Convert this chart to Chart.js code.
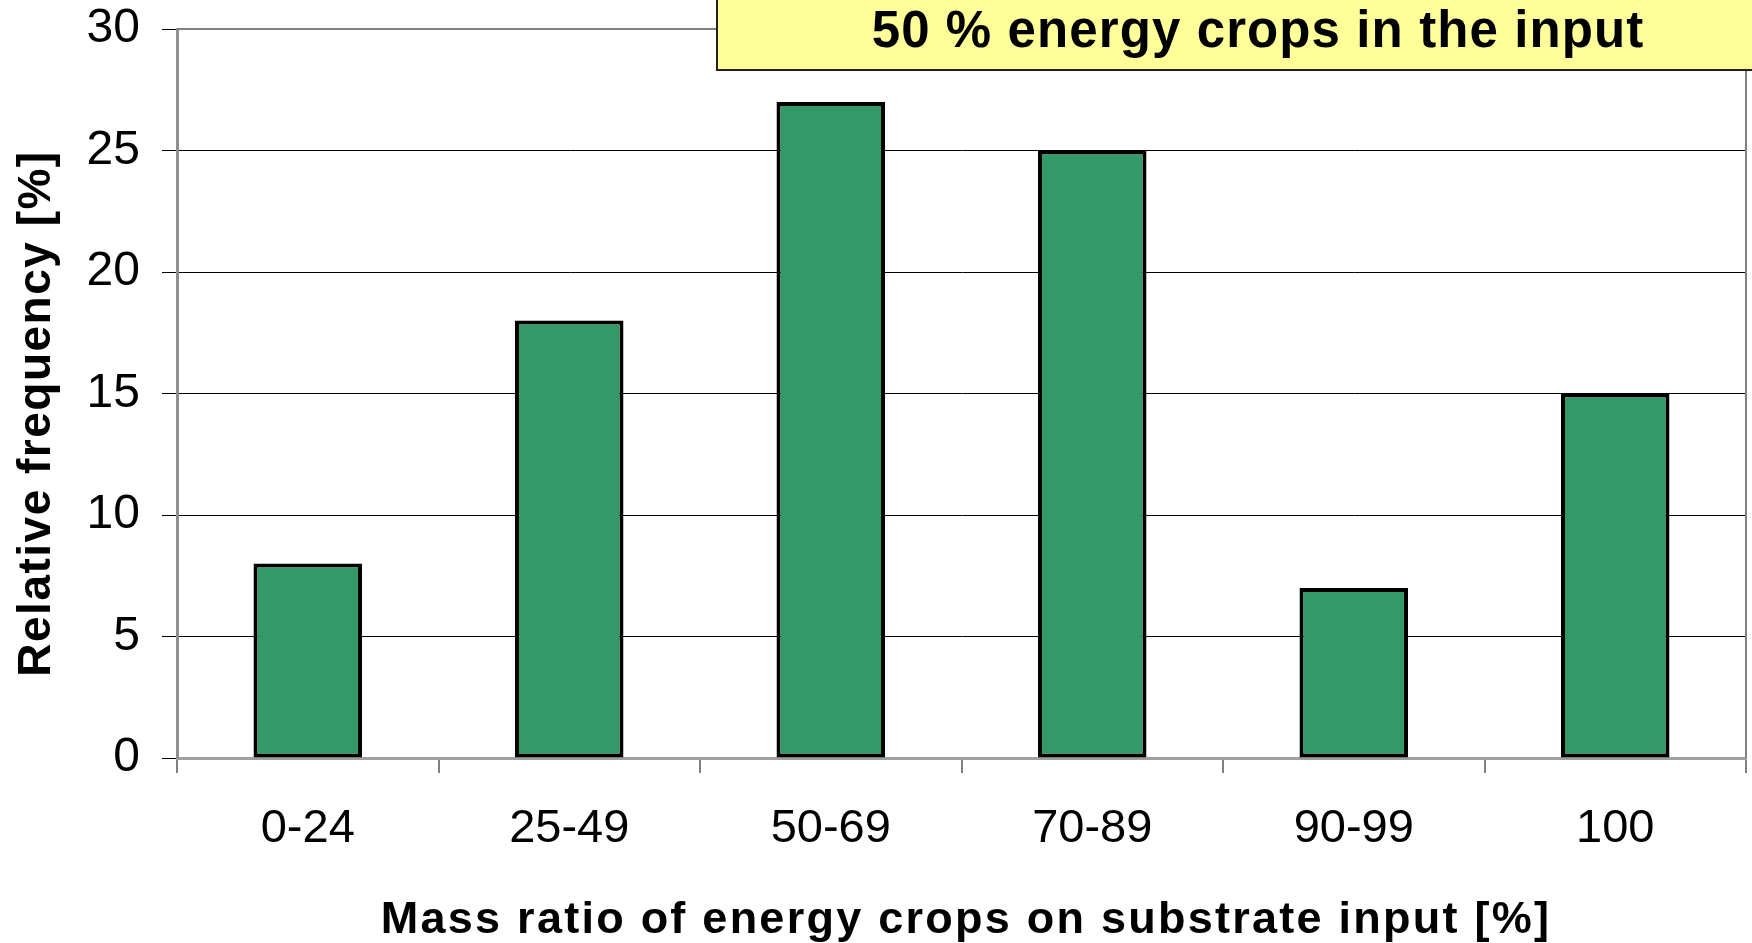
<!DOCTYPE html>
<html>
<head>
<meta charset="utf-8">
<script src="https://cdn.jsdelivr.net/npm/chart.js@4"></script>
<style>
  html, body { margin: 0; padding: 0; background: #fff; }
  #wrap { width: 1752px; height: 943px; position: relative; }
</style>
</head>
<body>
<div id="wrap"><canvas id="c"></canvas></div>
<script>
const categories = ['0-24', '25-49', '50-69', '70-89', '90-99', '100'];
const frequencies = [8, 18, 27, 25, 7, 15];
const yTicks = [0, 5, 10, 15, 20, 25, 30];
const chartTitle = '50 % energy crops in the input';
const xTitle = 'Mass ratio of energy crops on substrate input [%]';
const yTitle = 'Relative frequency [%]';

const FONT = "'Liberation Sans', Arial, sans-serif";

const decor = {
  id: 'decor',
  afterDatasetsDraw(chart) {
    const ctx = chart.ctx;
    const a = chart.chartArea;
    ctx.save();
    ctx.strokeStyle = '#808080';
    ctx.lineWidth = 2;
    ctx.beginPath();
    ctx.moveTo(a.left, a.top);
    ctx.lineTo(a.right, a.top);
    ctx.lineTo(a.right, a.bottom);
    ctx.stroke();
    ctx.restore();
  },
  afterDraw(chart) {
    const ctx = chart.ctx;
    ctx.save();
    ctx.fillStyle = '#FFFF99';
    ctx.fillRect(717, -4, 1100, 74);
    ctx.strokeStyle = '#222';
    ctx.lineWidth = 2;
    ctx.strokeRect(717, -4, 1100, 74);
    ctx.fillStyle = '#000';
    ctx.font = 'bold 51px ' + FONT;
    ctx.textAlign = 'center';
    ctx.textBaseline = 'alphabetic';
    ctx.letterSpacing = '1.1px';
    ctx.fillText(chartTitle, 1258, 47);

    ctx.font = 'bold 45px ' + FONT;
    ctx.letterSpacing = '2.25px';
    ctx.fillText(xTitle, 966, 933);

    ctx.translate(50, 413.5);
    ctx.rotate(-Math.PI / 2);
    ctx.font = 'bold 46px ' + FONT;
    ctx.letterSpacing = '1.5px';
    ctx.fillText(yTitle, 0, 0);
    ctx.restore();
  }
};

new Chart(document.getElementById('c'), {
  type: 'bar',
  data: {
    labels: categories,
    datasets: [{
      data: frequencies,
      backgroundColor: '#339966',
      borderColor: '#000000',
      borderWidth: 4,
      borderSkipped: false,
      categoryPercentage: 1.0,
      barPercentage: 0.415
    }]
  },
  options: {
    responsive: true,
    maintainAspectRatio: false,
    animation: false,
    layout: { padding: { top: 0, right: 6, left: 0, bottom: 0 } },
    plugins: {
      legend: { display: false },
      title: { display: false },
      tooltip: { enabled: false }
    },
    scales: {
      x: {
        offset: true,
        grid: {
          offset: true,
          drawOnChartArea: false,
          drawTicks: true,
          tickLength: 15,
          color: '#808080',
          lineWidth: 2
        },
        border: { display: true, color: '#a0a0a0', width: 3 },
        ticks: {
          color: '#000',
          padding: 28,
          font: { family: FONT, size: 47 },
          maxRotation: 0,
          autoSkip: false
        },
        afterFit(scale) { scale.height = 185; }
      },
      y: {
        min: 0,
        max: 30,
        afterBuildTicks(scale) { scale.ticks = yTicks.map(v => ({ value: v })); },
        grid: {
          color: '#000',
          lineWidth: 1,
          drawTicks: true,
          tickLength: 15,
          tickColor: '#000'
        },
        border: { display: true, color: '#909090', width: 3 },
        ticks: {
          color: '#000',
          padding: 22,
          font: { family: FONT, size: 48 }
        },
        afterFit(scale) {
          scale.width = 177;
          scale.paddingTop = 29;
          scale.paddingBottom = 0;
        }
      }
    }
  },
  plugins: [decor]
});
</script>
</body>
</html>
